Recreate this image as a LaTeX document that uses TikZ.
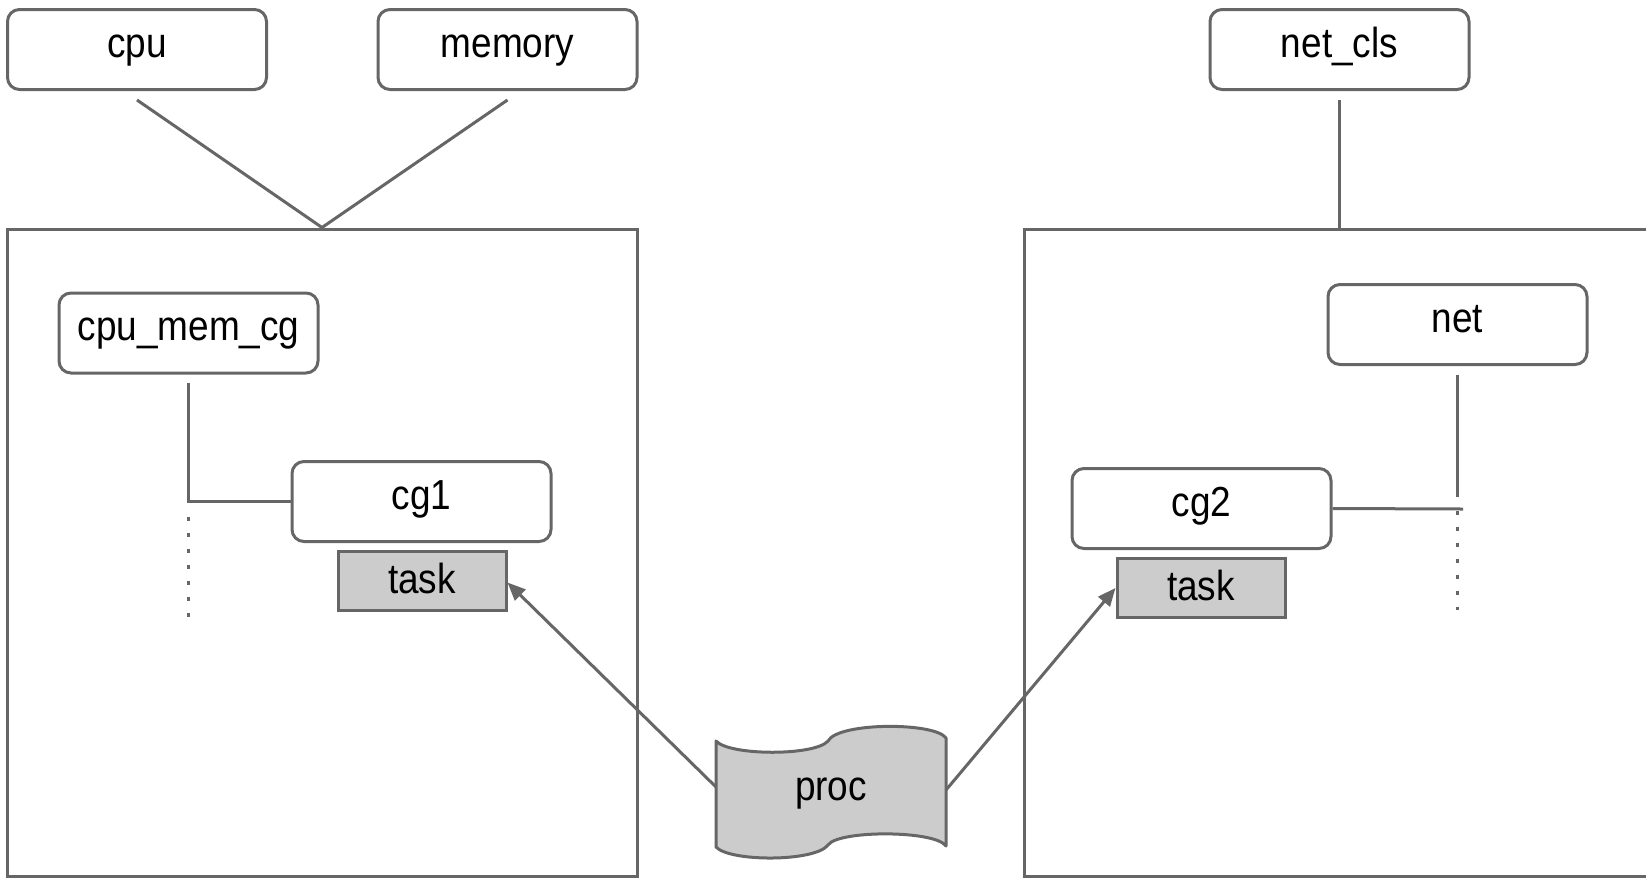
\documentclass[tikz,border=0pt]{standalone}
\usepackage{fontspec}
\setmainfont{Liberation Sans}[FakeStretch=0.88]
\usetikzlibrary{arrows.meta}
\definecolor{edge}{HTML}{666666}
\definecolor{taskfill}{HTML}{CCCCCC}
\begin{document}
\begin{tikzpicture}[x=1pt,y=-1pt,
  lbl/.style={font=\fontsize{42}{48}\selectfont, text height=24pt, text depth=9pt, inner sep=0pt},
  rbox/.style={lbl, draw=edge, line width=3pt, rounded corners=12pt, minimum width=259pt, minimum height=80pt},
  taskbox/.style={draw=edge, fill=taskfill, line width=3pt, minimum width=168pt, minimum height=59pt, inner sep=0pt},
  tasklbl/.style={font=\fontsize{42}{48}\selectfont, text height=30pt, text depth=5pt, inner sep=0pt},
  bigbox/.style={draw=edge, line width=3pt, inner sep=0pt},
  conn/.style={draw=edge, line width=3pt},
  dots/.style={conn, dash pattern=on 3.5pt off 12.5pt},
  arr/.style={conn, -{Triangle[length=18pt,width=15pt]}, fill=edge}
]
\useasboundingbox (0,0) rectangle (1646,879);

% big containers
\node[bigbox, minimum width=630pt, minimum height=647pt] (leftbox) at (322,552.5) {};
\node[bigbox, minimum width=630pt, minimum height=647pt] (rightbox) at (1339,552.5) {};
\path[fill=white] (1650,220) rectangle (1700,890);

% top controllers
\node[rbox] (cpu) at (137,49.5) {cpu};
\node[rbox] (memory) at (507.5,49.5) {memory};
\node[rbox] (netcls) at (1339.5,49.5) {net\_cls};

% inner groups
\node[rbox] (cpumem) at (188.5,333) {cpu\_mem\_cg};
\node[rbox] (cg1) at (421.5,501.5) {cg1};
\node[taskbox] (task1) at (422,580.5) {};
\node[tasklbl] at (task1.center) {task};

\node[rbox] (net) at (1457.5,324.5) {net};
\node[rbox] (cg2) at (1201.5,508.5) {cg2};
\node[taskbox] (task2) at (1201,588) {};
\node[tasklbl] at (task2.center) {task};

% proc shape
\node[minimum width=230pt, minimum height=106pt, inner sep=0pt] (proc) at (831,793) {};
\draw[draw=edge, fill=taskfill, line width=3pt, line join=round]
  (716,741) .. controls (730,756) and (815,756) .. (828,741)
  .. controls (838,722) and (935,722) .. (946,738)
  -- (946,846)
  .. controls (935,830) and (838,830) .. (828,845)
  .. controls (815,862) and (730,862) .. (716,847) -- cycle;
\node[lbl] at (proc.center) {proc};

% connectors top
\coordinate (leftjoin) at (leftbox.north);
\draw[conn] ([yshift=-9pt]cpu.south) -- (leftjoin);
\draw[conn] ([yshift=-9pt]memory.south) -- (leftjoin);
\coordinate (rightjoin) at (netcls.south |- rightbox.north);
\draw[conn] ([yshift=-9pt]netcls.south) -- (rightjoin);

% left hierarchy
\coordinate (lbend) at (cpumem.south |- cg1.west);
\draw[conn] ([yshift=-8pt]cpumem.south) -- (lbend) -- (cg1.west);
\coordinate (ldotA) at (188.5,517);
\coordinate (ldotB) at (188.5,620);
\draw[dots] (ldotA) -- (ldotB);

% right hierarchy
\coordinate (rvend) at (1457.5,497);
\draw[conn] ([yshift=-9pt]net.south) -- (rvend);
\coordinate (rhend) at (1463,509);
\draw[conn] (cg2.east) -- (rhend);
\coordinate (rdotA) at (1457.5,511);
\coordinate (rdotB) at (1457.5,610);
\draw[dots] (rdotA) -- (rdotB);

% arrows from proc
\coordinate (pw) at (716,787);
\coordinate (pe) at (946,790);
\draw[arr] (pw) -- ([yshift=-2pt]task1.east);
\draw[arr] (pe) -- (task2.west);
\end{tikzpicture}
\end{document}
